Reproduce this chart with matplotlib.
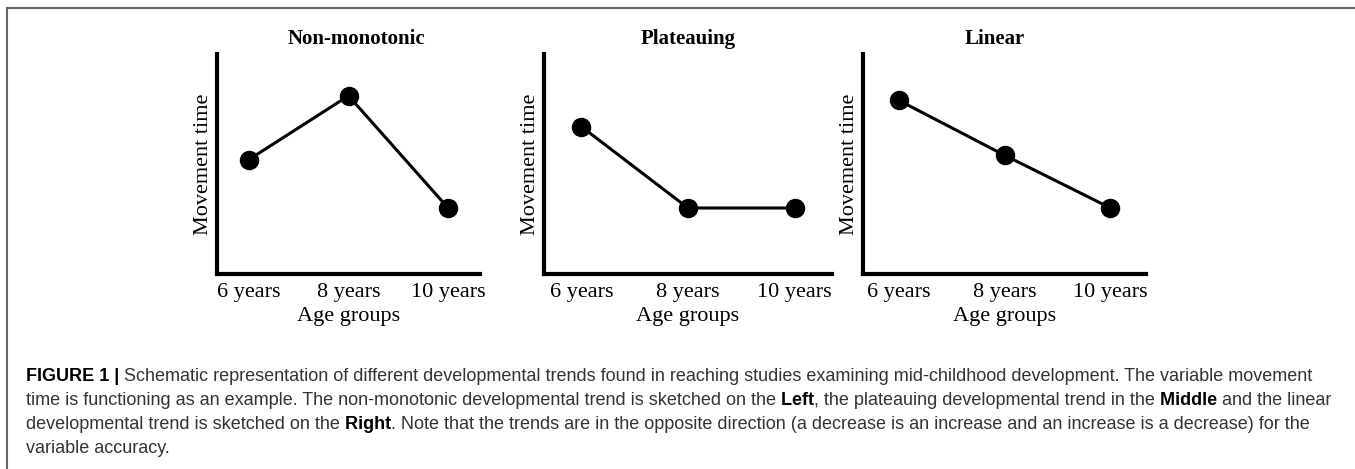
# coding=utf-8
import matplotlib
matplotlib.use('Agg')
from matplotlib import pyplot as plt
from matplotlib.lines import Line2D

# data (schematic, arbitrary units 0-10)
age_groups = ['6 years', '8 years', '10 years']
titles = ['Non-monotonic', 'Plateauing', 'Linear']
non_monotonic = [5.2, 8.1, 3.0]
plateauing = [6.7, 3.0, 3.0]
linear = [7.9, 5.4, 3.0]
series = [non_monotonic, plateauing, linear]

caption_lines = [
    [('FIGURE 1 |', True),
     (' Schematic representation of different developmental trends found in reaching studies examining mid-childhood development. The variable movement', False)],
    [('time is functioning as an example. The non-monotonic developmental trend is sketched on the', False),
     (' Left', True),
     (', the plateauing developmental trend in the', False),
     (' Middle', True),
     (' and the linear', False)],
    [('developmental trend is sketched on the', False),
     (' Right', True),
     ('. Note that the trends are in the opposite direction (a decrease is an increase and an increase is a decrease) for the', False)],
    [('variable accuracy.', False)],
]

W, H = 1355, 469
fig = plt.figure(figsize=(W / 100., H / 100.), dpi=100)

serif = 'Liberation Serif'
# left, width (pixels), xpad, title x (axes fraction)
panels = [(217, 263, 0.32, 0.532), (544, 288, 0.35, 0.5), (863, 283, 0.335, 0.466)]
ax_top, ax_bot = 54, 274

for i in range(3):
    left, width, xpad, tx = panels[i]
    ax = fig.add_axes([left / float(W), (H - ax_bot) / float(H), width / float(W), (ax_bot - ax_top) / float(H)])
    ax.plot(range(3), series[i], color='black', lw=2.2, marker='o', ms=13, clip_on=False)
    ax.set_xlim(-xpad, 2 + xpad)
    ax.set_ylim(0, 10)
    ax.set_xticks(range(3))
    ax.set_xticklabels(age_groups, fontsize=16, family=serif)
    ax.set_yticks([])
    ax.tick_params(axis='x', length=0, pad=6.5)
    for s in ['top', 'right']:
        ax.spines[s].set_visible(False)
    for s in ['left', 'bottom']:
        ax.spines[s].set_linewidth(3)
        ax.spines[s].set_capstyle('projecting')
    ax.set_xlabel('Age groups', fontsize=16, family=serif, labelpad=3.5)
    ax.set_ylabel('Movement time', fontsize=16, family=serif, labelpad=3)
    t = ax.set_title(titles[i], fontsize=15, family=serif, fontweight='bold', pad=7)
    t.set_x(tx)

# frame lines (top and left only)
fig.add_artist(Line2D([7. / W, 1.0], [1 - 8. / H, 1 - 8. / H], color='#666666', lw=1.5))
fig.add_artist(Line2D([7. / W, 7. / W], [1 - 8. / H, 0.0], color='#666666', lw=1.5))

# caption
renderer = fig.canvas.get_renderer()
y = 381
for line in caption_lines:
    x = 26
    for txt, bold in line:
        t = fig.text(x / float(W), 1 - y / float(H), txt, fontsize=13, family='Liberation Sans',
                     fontweight='bold' if bold else 'normal',
                     color='black' if bold else '#333333', va='baseline', ha='left')
        bb = t.get_window_extent(renderer)
        x += bb.width
    y += 24

fig.savefig('out.png', dpi=100)
